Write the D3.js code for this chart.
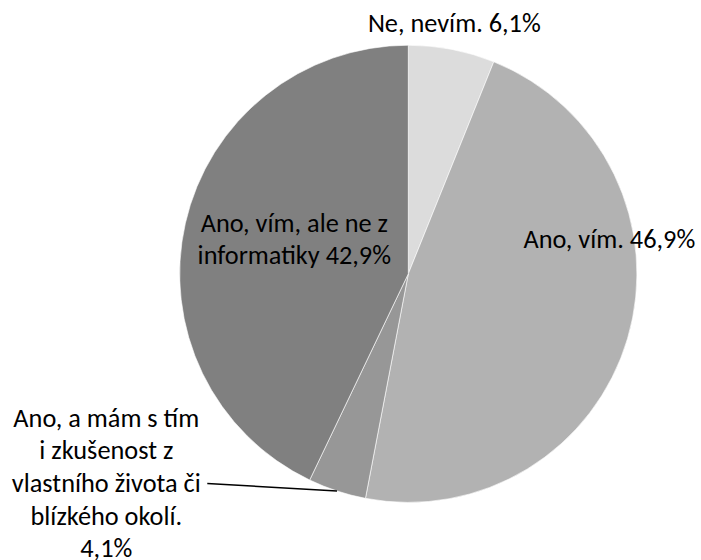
<!DOCTYPE html>
<html>
<head>
<meta charset="utf-8">
<script src="https://cdn.jsdelivr.net/npm/d3@7"></script>
<style>
  html, body { margin: 0; padding: 0; background: #ffffff; }
  svg { display: block; }
  text { font-family: Carlito, Lato, "Open Sans", sans-serif; fill: #000; }
</style>
</head>
<body>
<svg id="chart" width="701" height="560"></svg>
<script>
// ---- data ----
const categories = [
  "Ne, nevím.",
  "Ano, vím.",
  "Ano, a mám s tím i zkušenost z vlastního života či blízkého okolí.",
  "Ano, vím, ale ne z informatiky"
];
const values = [6.1, 46.9, 4.1, 42.9];
const valueLabels = ["6,1%", "46,9%", "4,1%", "42,9%"];
const labelLines = [
  ["Ne, nevím. 6,1%"],
  ["Ano, vím. 46,9%"],
  ["Ano, a mám s tím", "i zkušenost z", "vlastního života či", "blízkého okolí.", "4,1%"],
  ["Ano, vím, ale ne z", "informatiky 42,9%"]
];
const colors = ["#dcdcdc", "#b2b2b2", "#979797", "#808080"];

// ---- layout ----
const W = 701, H = 560;
const cx = 408.3, cy = 273.8, R = 228.6;
const fontSize = 26.3;
const lineH = 32.6;
// label anchor (center x, first baseline y) relative to pie center
const labelPos = [
  { dx: 46, dy: -242 },
  { dx: 201, dy: -25.5 },
  { dx: -302, dy: 153 },
  { dx: -114, dy: -42 }
];

const svg = d3.select("#chart");
const g = svg.append("g").attr("transform", `translate(${cx},${cy})`);

const pie = d3.pie().sort(null).value(d => d)
  .startAngle(0).endAngle(2 * Math.PI);
const arcs = pie(values);
const arc = d3.arc().innerRadius(0).outerRadius(R);

g.selectAll("path.slice").data(arcs).enter().append("path")
  .attr("class", "slice")
  .attr("d", arc)
  .attr("fill", (d, i) => colors[i])
  .attr("stroke", "#ffffff")
  .attr("stroke-width", 0.6);

// leader line for the small slice
{
  const a = arcs[2];
  const mid = (a.startAngle + a.endAngle) / 2;
  const r2 = R;
  const ex = r2 * Math.sin(mid), ey = -r2 * Math.cos(mid);
  const lp = labelPos[2];
  g.append("path")
    .attr("d", `M${lp.dx + 101},${lp.dy + 2 * lineH - 8.5} L${ex},${ey}`)
    .attr("stroke", "#000").attr("stroke-width", 1.5).attr("fill", "none");
}

labelLines.forEach((lines, i) => {
  const lp = labelPos[i];
  const t = g.append("text")
    .attr("text-anchor", "middle")
    .attr("font-size", fontSize);
  lines.forEach((ln, j) => {
    t.append("tspan")
      .attr("x", lp.dx)
      .attr("y", lp.dy + j * lineH)
      .text(ln);
  });
});
</script>
</body>
</html>
